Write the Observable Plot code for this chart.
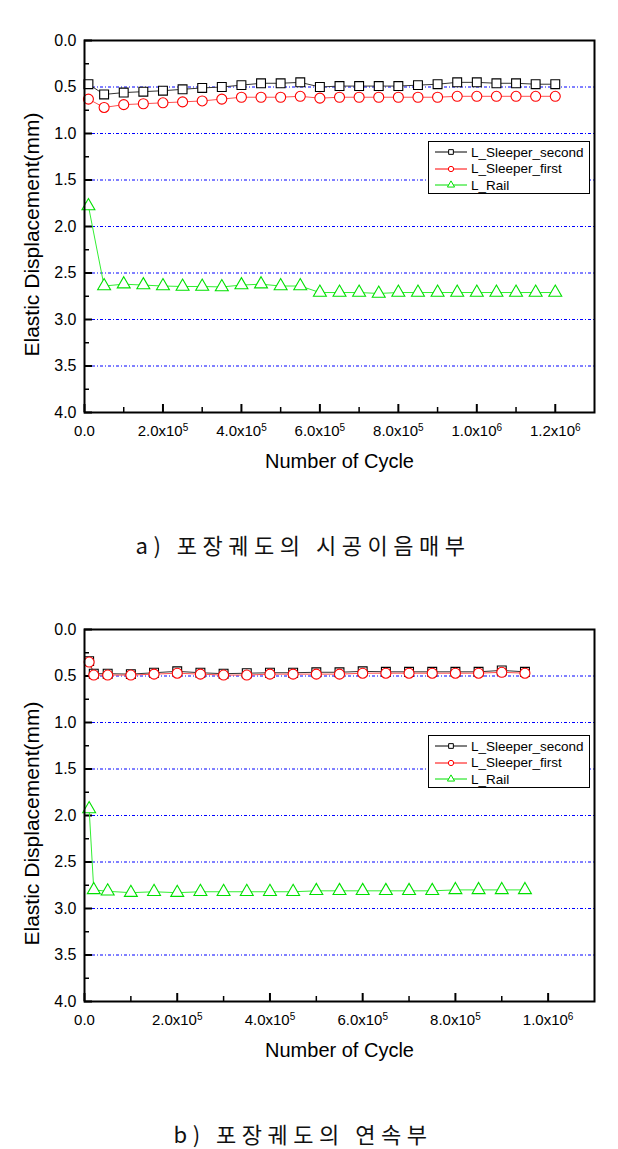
<!DOCTYPE html>
<html>
<head>
<meta charset="utf-8">
<script src="https://cdn.jsdelivr.net/npm/d3@7"></script>
<script src="https://cdn.jsdelivr.net/npm/@observablehq/plot@0.6"></script>
<style>
  body { margin: 0; background: white; }
  #wrap { position: relative; width: 618px; height: 1149px; font-family: "Liberation Sans", Arial, sans-serif; }
  .chart { position: absolute; left: 0; }
  .legend { position: absolute; border: 1px solid black; background: white; box-sizing: border-box; padding-top: 2px; }
  .legend .row { display: flex; align-items: center; height: 16.5px; font-size: 13.5px; white-space: nowrap; }
  .legend svg { margin-left: 6px; margin-right: 4px; }
  .caption { position: absolute; left: -6px; width: 618px; text-align: center; font-family: "Noto Sans CJK KR", sans-serif; font-size: 22px; letter-spacing: 5.5px; line-height: 30px; color: #111; }
</style>
</head>
<body>
<div id="wrap"></div>
<script>
// ---------- data ----------
const seriesNames = ["L_Sleeper_second", "L_Sleeper_first", "L_Rail"];

const cyclesA = [10000, 50000, 100000, 150000, 200000, 250000, 300000, 350000, 400000, 450000, 500000, 550000,
  600000, 650000, 700000, 750000, 800000, 850000, 900000, 950000, 1000000, 1050000, 1100000, 1150000, 1200000];
const secondA = [0.47, 0.58, 0.56, 0.55, 0.54, 0.525, 0.51, 0.50, 0.48, 0.46, 0.46, 0.45,
  0.50, 0.49, 0.49, 0.49, 0.49, 0.48, 0.47, 0.45, 0.45, 0.46, 0.46, 0.47, 0.47];
const firstA = [0.63, 0.72, 0.69, 0.68, 0.67, 0.66, 0.65, 0.63, 0.61, 0.61, 0.61, 0.60,
  0.62, 0.61, 0.61, 0.61, 0.61, 0.61, 0.61, 0.60, 0.60, 0.60, 0.60, 0.60, 0.60];
const railA = [1.78, 2.64, 2.62, 2.63, 2.64, 2.645, 2.645, 2.65, 2.63, 2.62, 2.64, 2.64,
  2.71, 2.71, 2.71, 2.72, 2.71, 2.71, 2.71, 2.71, 2.71, 2.71, 2.71, 2.71, 2.71];

const cyclesB = [10000, 20000, 50000, 100000, 150000, 200000, 250000, 300000, 350000, 400000, 450000,
  500000, 550000, 600000, 650000, 700000, 750000, 800000, 850000, 900000, 950000];
const secondB = [0.34, 0.475, 0.475, 0.48, 0.465, 0.45, 0.465, 0.475, 0.47, 0.465, 0.465,
  0.46, 0.46, 0.45, 0.455, 0.455, 0.455, 0.455, 0.455, 0.44, 0.455];
const firstB = [0.35, 0.49, 0.49, 0.49, 0.48, 0.47, 0.48, 0.49, 0.49, 0.48, 0.48,
  0.48, 0.48, 0.47, 0.47, 0.47, 0.47, 0.47, 0.47, 0.46, 0.47];
const railB = [1.93, 2.80, 2.815, 2.83, 2.82, 2.83, 2.82, 2.82, 2.82, 2.82, 2.82,
  2.81, 2.81, 2.81, 2.81, 2.81, 2.81, 2.80, 2.80, 2.80, 2.80];

const yTicks = [0, 0.5, 1, 1.5, 2, 2.5, 3, 3.5, 4];
const yMinor = [0.25, 0.75, 1.25, 1.75, 2.25, 2.75, 3.25, 3.75];
const yGrid = [0.5, 1, 1.5, 2, 2.5, 3, 3.5];
const xTicksA = [0, 200000, 400000, 600000, 800000, 1000000, 1200000];
const xMinorA = [100000, 300000, 500000, 700000, 900000, 1100000];
const xTicksB = [0, 200000, 400000, 600000, 800000, 1000000];
const xMinorB = [100000, 300000, 500000, 700000, 900000];
const xMaxA = 1300000;
const xMaxB = 1100000;

const captionA = "a) 포장궤도의 시공이음매부";
const captionB = "b) 포장궤도의 연속부";
const xTitle = "Number of Cycle";
const yTitle = "Elastic Displacement(mm)";

// ---------- styling ----------
const colors = {"L_Sleeper_second": "black", "L_Sleeper_first": "#ff0000", "L_Rail": "#00e000"};
const lineColors = {"L_Sleeper_second": "#333", "L_Sleeper_first": "#ff5050", "L_Rail": "#33ee33"};
const symbols = {"L_Sleeper_second": "square", "L_Sleeper_first": "circle", "L_Rail": "triangle"};

const sup = {"0":"⁰","1":"¹","2":"²","3":"³","4":"⁴","5":"⁵","6":"⁶","7":"⁷","8":"⁸","9":"⁹"};
const unsup = Object.fromEntries(Object.entries(sup).map(([k, v]) => [v, k]));
function fmtX(v) {
  if (v === 0) return "0.0";
  const e = Math.floor(Math.log10(v));
  const m = v / Math.pow(10, e);
  return m.toFixed(1) + "x10" + String(e).split("").map(c => sup[c]).join("");
}

function makeRows(cycles, lists) {
  const rows = [];
  seriesNames.forEach((name, k) => {
    cycles.forEach((c, i) => rows.push({series: name, cycle: c, value: lists[k][i]}));
  });
  return rows;
}

function chart(rows, xMax, xTicks, xMinor) {
  const W = 618, mL = 84, mR = 24, mT = 40, mB = 72, plotH = 372;
  const plotW = W - mL - mR;
  const marks = [
    Plot.ruleY(yGrid, {y: d => d, stroke: "#0000ff", strokeWidth: 1, strokeDasharray: "3,2,1,2"}),
    Plot.tickX(xTicks, {x: d => d, insetTop: plotH - 8, stroke: "black", strokeWidth: 2}),
    Plot.tickX(xMinor, {x: d => d, insetTop: plotH - 5, stroke: "black", strokeWidth: 1.5}),
    Plot.tickY(yTicks, {y: d => d, insetRight: plotW - 8, stroke: "black", strokeWidth: 2}),
    Plot.tickY(yMinor, {y: d => d, insetRight: plotW - 5, stroke: "black", strokeWidth: 1.5}),
    Plot.axisX({ticks: xTicks, tickFormat: fmtX, tickSize: 0, tickPadding: 13, label: null, fontSize: 15}),
    Plot.axisY({ticks: yTicks, tickFormat: d => d.toFixed(1), tickSize: 0, tickPadding: 8, label: null, fontSize: 16})
  ];
  seriesNames.forEach(name => {
    marks.push(Plot.line(rows.filter(r => r.series === name), {x: "cycle", y: "value", stroke: lineColors[name], strokeWidth: 1}));
  });
  seriesNames.forEach(name => {
    marks.push(Plot.dot(rows.filter(r => r.series === name), {
      x: "cycle", y: "value", symbol: symbols[name], r: name === "L_Rail" ? 4.8 : 5,
      stroke: colors[name], fill: "white", strokeWidth: 1.1
    }));
  });
  marks.push(
    Plot.frame({stroke: "black", strokeWidth: 2}),
    Plot.text([xTitle], {text: d => d, frameAnchor: "bottom", dy: 55, fontSize: 20}),
    Plot.text([yTitle], {text: d => d, frameAnchor: "left", textAnchor: "middle", dx: -52, dy: 8, rotate: -90, fontSize: 21})
  );
  const svg = Plot.plot({
    width: W, height: mT + plotH + mB,
    marginLeft: mL, marginRight: mR, marginTop: mT, marginBottom: mB,
    style: {fontFamily: "'Liberation Sans', Arial, sans-serif", color: "black", background: "white", overflow: "visible"},
    x: {domain: [0, xMax]},
    y: {domain: [0, 4], reverse: true},
    marks
  });
  d3.select(svg).selectAll("text").each(function() {
    const s = this.textContent;
    // y title: fix its drawn length to the reference's
    if (s === yTitle) {
      this.setAttribute("textLength", "244");
      this.setAttribute("lengthAdjust", "spacingAndGlyphs");
      return;
    }
    // render exponent as raised smaller digits
    const m = s.match(/^(.*x10)([⁰¹²³⁴⁵⁶⁷⁸⁹]+)$/);
    if (m) {
      const t = d3.select(this);
      t.text(null);
      t.append("tspan").text(m[1]);
      t.append("tspan").attr("dy", "-0.5em").attr("font-size", "10px")
        .text(m[2].split("").map(c => unsup[c]).join(""));
    }
  });
  return svg;
}

function legend(left, top) {
  const div = document.createElement("div");
  div.className = "legend";
  div.style.left = left + "px";
  div.style.top = top + "px";
  div.style.width = "162px";
  div.style.height = "53px";
  const ns = "http://www.w3.org/2000/svg";
  seriesNames.forEach(name => {
    const row = document.createElement("div");
    row.className = "row";
    const svg = document.createElementNS(ns, "svg");
    svg.setAttribute("width", "32");
    svg.setAttribute("height", "12");
    const ln = document.createElementNS(ns, "line");
    ln.setAttribute("x1", "0"); ln.setAttribute("x2", "32");
    ln.setAttribute("y1", "6"); ln.setAttribute("y2", "6");
    ln.setAttribute("stroke", colors[name]); ln.setAttribute("stroke-width", "1");
    svg.appendChild(ln);
    const sym = document.createElementNS(ns, "path");
    const t = symbols[name] === "square" ? d3.symbolSquare : symbols[name] === "circle" ? d3.symbolCircle : d3.symbolTriangle;
    sym.setAttribute("d", d3.symbol(t, 22)());
    sym.setAttribute("transform", "translate(16,6)");
    sym.setAttribute("fill", "white");
    sym.setAttribute("stroke", colors[name]);
    svg.appendChild(sym);
    row.appendChild(svg);
    const txt = document.createElement("span");
    txt.textContent = name;
    row.appendChild(txt);
    div.appendChild(row);
  });
  return div;
}

const wrap = document.getElementById("wrap");

const svgA = chart(makeRows(cyclesA, [secondA, firstA, railA]), xMaxA, xTicksA, xMinorA);
svgA.classList.add("chart");
svgA.style.top = "0px";
wrap.appendChild(svgA);
wrap.appendChild(legend(428, 141));
const capA = document.createElement("div");
capA.className = "caption";
capA.style.top = "529px";
capA.textContent = captionA;
wrap.appendChild(capA);

const svgB = chart(makeRows(cyclesB, [secondB, firstB, railB]), xMaxB, xTicksB, xMinorB);
svgB.classList.add("chart");
svgB.style.top = "589px";
wrap.appendChild(svgB);
wrap.appendChild(legend(428, 735));
const capB = document.createElement("div");
capB.className = "caption";
capB.style.top = "1118px";
capB.textContent = captionB;
wrap.appendChild(capB);
</script>
</body>
</html>
